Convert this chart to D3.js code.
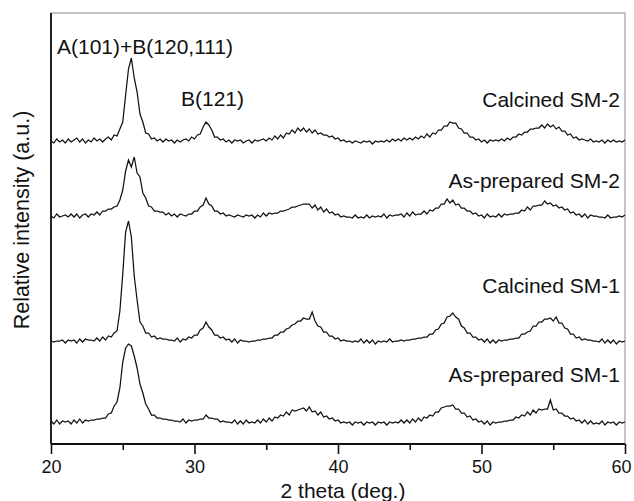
<!DOCTYPE html>
<html>
<head>
<meta charset="utf-8">
<script src="https://cdn.jsdelivr.net/npm/d3@7"></script>
<style>
    body { margin: 0; background: #fff; }
    svg { display: block; }
    text { font-family: Arial, "Liberation Sans", sans-serif; fill: #111; }
</style>
</head>
<body>
<svg id="chart" width="634" height="501"></svg>
<script>
// scan grid: 20 to 60 deg, 0.2 deg step
const SCAN_START = 20;
const SCAN_STEP = 0.2;

const xTicks = [20, 30, 40, 50, 60];
const xMinorTicks = [25, 35, 45, 55];

const seriesNames = ['As-prepared SM-1', 'Calcined SM-1', 'As-prepared SM-2', 'Calcined SM-2'];
const seriesOffsets = [21, 102, 227, 302];

// intensities above each pattern's own baseline (a.u.)
const asPreparedSM1 = [
    2,-1,3,-1,2,1,2,-1,3,0,4,0,3,2,3,3,
    4,4,5,5,9,10,17,21,35,
    61,75,79,77,67,55,39,30,19,14,8,
    8,5,5,4,4,3,3,2,2,1,4,0,3,2,
    3,3,4,4,8,5,5,4,4,1,
    2,1,1,0,3,-1,2,-1,3,0,1,0,3,0,4,1,5,2,6,5,
    8,7,11,8,13,12,13,14,15,12,16,11,12,8,11,6,7,4,5,2,
    3,0,1,0,1,-2,1,0,1,-2,1,0,1,-2,1,0,1,-2,1,0,1,0,3,0,3,0,4,1,5,2,6,5,8,
    7,11,11,15,16,17,17,18,14,14,10,10,6,7,3,4,1,
    2,-1,2,-2,1,0,1,1,2,2,3,3,6,5,
    8,7,11,8,13,10,14,13,14,14,23,13,14,10,10,7,7,4,5,2,
    3,0,3,-1,2,-1,0,-1,2,-2,1,0,1,-2,1,0,1
];

const calcinedSM1 = [
    1,0,1,1,2,-1,2,1,2,-1,3,0,3,2,2,1,
    4,1,5,2,6,5,9,11,31,
    68,110,121,105,66,42,20,16,9,9,5,
    6,3,4,3,3,2,2,1,4,0,3,2,5,4,
    7,7,12,14,20,15,12,7,7,4,
    5,2,3,0,3,-1,2,1,1,0,1,1,2,2,3,3,4,4,7,7,
    10,10,13,14,17,18,21,21,24,23,23,30,21,16,15,10,10,6,6,3,
    4,1,2,1,1,0,1,0,3,-1,2,-1,2,-2,1,0,1,0,3,0,1,1,2,1,2,2,3,3,4,4,5,5,8,
    8,12,13,18,19,25,26,29,25,23,16,14,9,9,5,5,2,
    3,0,3,-1,2,-1,2,1,2,2,3,3,4,4,
    8,8,10,11,16,16,20,20,23,23,24,21,25,19,19,14,13,8,8,4,
    5,2,3,2,2,1,1,0,3,-1,2,-1,2,-2,1,0,1
];

const asPreparedSM2 = [
    1,-1,3,0,1,2,0,3,0,3,-1,2,3,0,3,2,
    5,2,6,6,8,8,10,11,17,
    27,46,57,50,60,44,40,24,19,11,10,
    6,6,5,5,2,4,1,3,0,3,2,1,3,3,
    6,6,10,12,19,13,11,6,6,3,
    4,1,2,1,0,2,1,0,2,1,2,-1,2,0,4,1,4,3,4,4,
    6,6,7,8,10,10,11,12,13,13,13,9,12,7,10,5,8,4,5,2,
    3,0,1,0,0,-1,2,-1,0,-1,2,-1,1,0,1,0,3,-1,2,1,2,2,3,0,4,1,5,2,3,3,6,3,7,
    6,9,9,13,13,18,14,17,12,13,9,9,6,6,3,4,1,
    2,-1,3,0,1,0,3,0,3,2,3,3,4,4,
    7,6,10,7,11,11,12,12,16,13,14,11,12,9,10,7,8,4,5,2,
    3,0,3,-1,2,1,1,0,0,-1,2,-1,0,0,1,0,2
];

const calcinedSM2 = [
    1,-1,3,0,2,-1,3,0,2,4,0,3,-1,2,0,4,1,3,0,3,
    5,2,7,6,13,
    20,47,73,84,64,50,28,20,9,8,3,
    4,1,3,0,3,1,2,-1,2,0,2,3,1,5,
    3,7,8,15,20,17,12,5,5,2,
    3,0,2,-1,2,1,2,-1,1,2,-1,2,1,2,3,1,4,2,6,3,
    7,4,9,8,12,9,14,11,14,10,13,9,12,8,9,7,7,5,6,3,
    4,1,2,0,1,-1,1,0,-1,1,0,1,-2,1,0,1,0,2,0,3,1,3,1,4,2,4,2,5,3,6,4,8,5,
    9,8,12,12,16,16,20,19,19,14,13,9,9,5,5,2,3,
    0,2,-1,2,1,2,1,3,1,4,2,5,5,8,
    7,10,10,13,13,14,14,17,14,18,15,17,13,15,11,11,7,8,4,5,
    2,3,2,1,3,0,1,0,2,-1,2,0,2,0,1,0,2
];

const peakLabels = ['A(101)+B(120,111)', 'B(121)'];

const svg = d3.select('#chart');
const margin = { top: 13, right: 9, bottom: 57, left: 51 };
const width = 634, height = 501;
const innerW = width - margin.left - margin.right;
const innerH = height - margin.top - margin.bottom;

const x = d3.scaleLinear().domain([20, 60]).range([0, innerW]);
const y = d3.scaleLinear().domain([0, 431]).range([innerH, 0]);

const g = svg.append('g').attr('transform', `translate(${margin.left},${margin.top})`);

// frame: top/right grey, left/bottom black
g.append('rect')
    .attr('width', innerW).attr('height', innerH)
    .attr('fill', 'none').attr('stroke', '#8a8a8a').attr('stroke-width', 1);

const series = [asPreparedSM1, calcinedSM1, asPreparedSM2, calcinedSM2].map((vals, i) => ({
    name: seriesNames[i],
    points: vals.map((v, k) => [SCAN_START + k * SCAN_STEP, v + seriesOffsets[i]])
}));

const line = d3.line().x(d => x(d[0])).y(d => y(d[1]));

g.selectAll('path.pattern')
    .data(series)
    .join('path')
    .attr('class', 'pattern')
    .attr('d', d => line(d.points))
    .attr('fill', 'none')
    .attr('stroke', '#111')
    .attr('stroke-width', 1.25)
    .attr('stroke-linejoin', 'miter');

// axes
const xAxis = g.append('g')
    .attr('transform', `translate(0,${innerH})`)
    .call(d3.axisBottom(x).tickValues(xTicks).tickSize(10).tickPadding(6).tickFormat(d3.format('d')));
xAxis.select('.domain').remove();
xAxis.selectAll('line').attr('stroke', '#111').attr('stroke-width', 1.6);
xAxis.selectAll('text').attr('font-size', 18).attr('fill', '#111')
    .attr('dx', d => d === 60 ? -4 : 0);

const xMinor = g.append('g')
    .attr('transform', `translate(0,${innerH})`)
    .call(d3.axisBottom(x).tickValues(xMinorTicks).tickSize(6).tickFormat(''));
xMinor.select('.domain').remove();
xMinor.selectAll('line').attr('stroke', '#111').attr('stroke-width', 1.6);

g.append('line')
    .attr('x1', 0).attr('x2', innerW).attr('y1', innerH).attr('y2', innerH)
    .attr('stroke', '#111').attr('stroke-width', 1.8);
g.append('line')
    .attr('x1', 0).attr('x2', 0).attr('y1', 0).attr('y2', innerH)
    .attr('stroke', '#111').attr('stroke-width', 1.8);

// axis titles
svg.append('text')
    .attr('x', 343).attr('y', 498)
    .attr('text-anchor', 'middle')
    .attr('font-size', 21)
    .text('2 theta (deg.)');

svg.append('text')
    .attr('transform', 'translate(29,220) rotate(-90)')
    .attr('text-anchor', 'middle')
    .attr('font-size', 21.5)
    .text('Relative intensity (a.u.)');

// peak annotations
svg.append('text').attr('x', 57).attr('y', 54).attr('font-size', 21).text(peakLabels[0]);
svg.append('text').attr('x', 181).attr('y', 106).attr('font-size', 21).text(peakLabels[1]);

// pattern names, right aligned
const nameBaselines = [382, 293, 188, 107];
seriesNames.forEach((name, i) => {
    svg.append('text')
        .attr('x', 620).attr('y', nameBaselines[i])
        .attr('text-anchor', 'end')
        .attr('font-size', 21)
        .text(name);
});
</script>
</body>
</html>
